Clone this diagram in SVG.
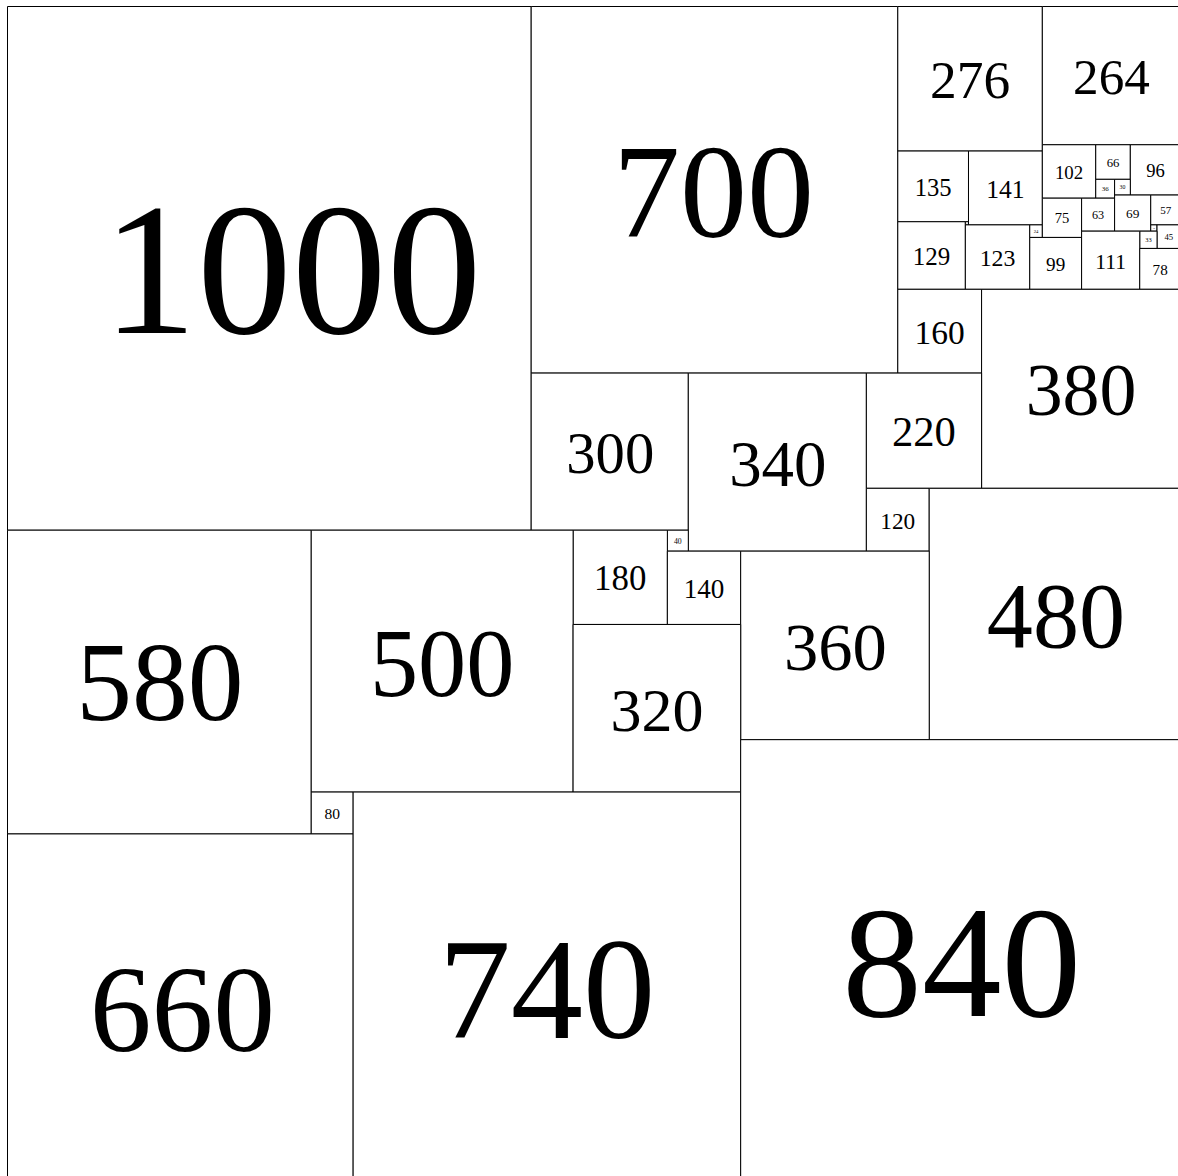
<svg xmlns="http://www.w3.org/2000/svg" width="1178" height="1176" viewBox="0 0 1178 1176">
<style>
rect.sq { fill: #ffffff; stroke: #000000; stroke-width: 1; vector-effect: non-scaling-stroke; }
text { font-family: "Liberation Serif", "Times New Roman", serif; text-anchor: middle; fill: #000000; }
</style>
<rect x="0" y="0" width="1178" height="1176" fill="#ffffff"/>
<g transform="translate(7.5 6.5) scale(0.5237)">
<g id="n1000"><rect class="sq" x="0" y="0" width="1000" height="1000"/><text x="543" y="624" font-size="362">1000</text></g>
<g id="n700"><rect class="sq" x="1000" y="0" width="700" height="700"/><text x="1348" y="439.6" font-size="256">700</text></g>
<g id="n276"><rect class="sq" x="1700" y="0" width="276" height="276"/><text x="1838" y="175.2" font-size="102">276</text></g>
<g id="n264"><rect class="sq" x="1976" y="0" width="264" height="264"/><text x="2108" y="167.7" font-size="97.7">264</text></g>
<g id="n135"><rect class="sq" x="1700" y="276" width="135" height="135"/><text x="1767.5" y="361.7" font-size="47">135</text></g>
<g id="n141"><rect class="sq" x="1835" y="276" width="141" height="141"/><text x="1905.5" y="365.4" font-size="49">141</text></g>
<g id="n129"><rect class="sq" x="1700" y="411" width="129" height="129"/><text x="1764.5" y="494" font-size="47.7">129</text></g>
<g id="n6"><rect class="sq" x="1829" y="411" width="6" height="6"/><text x="1832" y="414.8" font-size="2.2">6</text></g>
<g id="n123"><rect class="sq" x="1829" y="417" width="123" height="123"/><text x="1890.5" y="496.2" font-size="45.5">123</text></g>
<g id="n24"><rect class="sq" x="1952" y="417" width="24" height="24"/><text x="1964" y="432.1" font-size="8.9">24</text></g>
<g id="n102"><rect class="sq" x="1976" y="264" width="102" height="102"/><text x="2027" y="329.4" font-size="36">102</text></g>
<g id="n66"><rect class="sq" x="2078" y="264" width="66" height="66"/><text x="2111" y="306.4" font-size="24.4">66</text></g>
<g id="n96"><rect class="sq" x="2144" y="264" width="96" height="96"/><text x="2192" y="326.2" font-size="35.5">96</text></g>
<g id="n36"><rect class="sq" x="2078" y="330" width="36" height="36"/><text x="2096" y="353.1" font-size="13.3">36</text></g>
<g id="n30"><rect class="sq" x="2114" y="330" width="30" height="30"/><text x="2129" y="349.3" font-size="11.1">30</text></g>
<g id="n75"><rect class="sq" x="1976" y="366" width="75" height="75"/><text x="2013.5" y="414.1" font-size="27.8">75</text></g>
<g id="n63"><rect class="sq" x="2051" y="366" width="63" height="63"/><text x="2082.5" y="406.5" font-size="23.3">63</text></g>
<g id="n69"><rect class="sq" x="2114" y="360" width="69" height="69"/><text x="2148.5" y="404.3" font-size="25.5">69</text></g>
<g id="n57"><rect class="sq" x="2183" y="360" width="57" height="57"/><text x="2211.5" y="396.8" font-size="21.1">57</text></g>
<g id="n12"><rect class="sq" x="2183" y="417" width="12" height="12"/><text x="2189" y="424.5" font-size="4.4">12</text></g>
<g id="n45"><rect class="sq" x="2195" y="417" width="45" height="45"/><text x="2217.5" y="445.8" font-size="16.7">45</text></g>
<g id="n33"><rect class="sq" x="2162" y="429" width="33" height="33"/><text x="2178.5" y="450.2" font-size="12.2">33</text></g>
<g id="n99"><rect class="sq" x="1952" y="441" width="99" height="99"/><text x="2001.5" y="505.1" font-size="36.6">99</text></g>
<g id="n111"><rect class="sq" x="2051" y="429" width="111" height="111"/><text x="2106.5" y="500.7" font-size="41">111</text></g>
<g id="n78"><rect class="sq" x="2162" y="462" width="78" height="78"/><text x="2201" y="512" font-size="28.9">78</text></g>
<g id="n160"><rect class="sq" x="1700" y="540" width="160" height="160"/><text x="1780" y="644" font-size="64">160</text></g>
<g id="n380"><rect class="sq" x="1860" y="540" width="380" height="380"/><text x="2050" y="780.6" font-size="141">380</text></g>
<g id="n300"><rect class="sq" x="1000" y="700" width="300" height="300"/><text x="1151" y="891" font-size="112">300</text></g>
<g id="n340"><rect class="sq" x="1300" y="700" width="340" height="340"/><text x="1471" y="915.8" font-size="124">340</text></g>
<g id="n220"><rect class="sq" x="1640" y="700" width="220" height="220"/><text x="1750" y="840.1" font-size="81.4">220</text></g>
<g id="n120"><rect class="sq" x="1640" y="920" width="120" height="120"/><text x="1700" y="997.3" font-size="44.4">120</text></g>
<g id="n480"><rect class="sq" x="1760" y="920" width="480" height="480"/><text x="2002" y="1223.3" font-size="176">480</text></g>
<g id="n40"><rect class="sq" x="1260" y="1000" width="40" height="40"/><text x="1280" y="1025.6" font-size="14.8">40</text></g>
<g id="n180"><rect class="sq" x="1080" y="1000" width="180" height="180"/><text x="1170" y="1115" font-size="66.6">180</text></g>
<g id="n140"><rect class="sq" x="1260" y="1040" width="140" height="140"/><text x="1330" y="1129.9" font-size="51.8">140</text></g>
<g id="n360"><rect class="sq" x="1400" y="1040" width="360" height="360"/><text x="1581" y="1267.9" font-size="131">360</text></g>
<g id="n580"><rect class="sq" x="0" y="1000" width="580" height="580"/><text x="291" y="1362" font-size="213">580</text></g>
<g id="n500"><rect class="sq" x="580" y="1000" width="500" height="500"/><text x="830" y="1316" font-size="184">500</text></g>
<g id="n320"><rect class="sq" x="1080" y="1180" width="320" height="320"/><text x="1240" y="1382.8" font-size="118.4">320</text></g>
<g id="n80"><rect class="sq" x="580" y="1500" width="80" height="80"/><text x="620" y="1551.2" font-size="29.6">80</text></g>
<g id="n660"><rect class="sq" x="0" y="1580" width="660" height="660"/><text x="334" y="1994" font-size="236">660</text></g>
<g id="n740"><rect class="sq" x="660" y="1500" width="740" height="740"/><text x="1030" y="1969" font-size="276">740</text></g>
<g id="n840"><rect class="sq" x="1400" y="1400" width="840" height="840"/><text x="1822" y="1928" font-size="304">840</text></g>
</g>
</svg>
